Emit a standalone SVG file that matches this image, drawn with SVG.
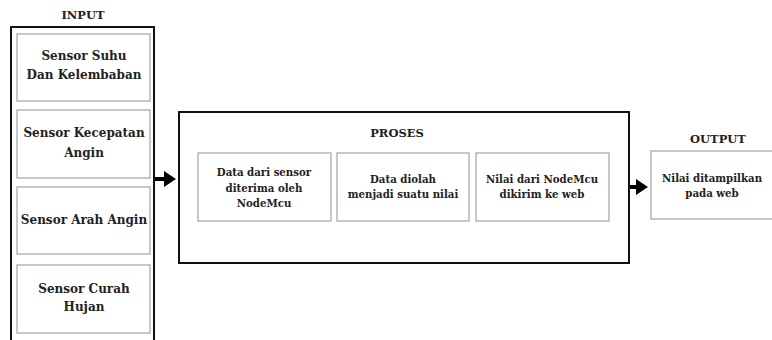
<svg xmlns="http://www.w3.org/2000/svg" width="772" height="340" viewBox="0 0 772 340">
<style>
.outer{fill:none;stroke:#111;stroke-width:2}
.inner{fill:#fff;stroke:#aaa;stroke-width:1.3}
.t{font-family:"DejaVu Serif","Liberation Serif",serif;font-weight:bold;fill:#222;text-anchor:middle}
.s{font-size:12px}
.m{font-size:10.2px}
.h{font-size:11.5px}
.arrow{stroke:#000;stroke-width:4;fill:none}
</style>
<defs>
<marker id="ah" markerWidth="4" markerHeight="4" refX="0.5" refY="2" orient="auto" markerUnits="strokeWidth">
<path d="M0,0 L3,2 L0,4 Z" fill="#000"/>
</marker>
</defs>
<rect width="772" height="340" fill="#fff"/>

<g id="input">
<text class="t h" x="83" y="19">INPUT</text>
<path class="outer" d="M11,342 V27 H154 V342"/>
</g>
<g id="sensor1">
<rect class="inner" x="17" y="34" width="133" height="67"/>
<text class="t s" x="84" y="60">Sensor Suhu</text>
<text class="t s" x="84" y="79">Dan Kelembaban</text>
</g>
<g id="sensor2">
<rect class="inner" x="17" y="110" width="133" height="68"/>
<text class="t s" x="84" y="137">Sensor Kecepatan</text>
<text class="t s" x="84" y="157">Angin</text>
</g>
<g id="sensor3">
<rect class="inner" x="17" y="187" width="133" height="67"/>
<text class="t s" x="84" y="224">Sensor Arah Angin</text>
</g>
<g id="sensor4">
<rect class="inner" x="17" y="265" width="133" height="68"/>
<text class="t s" x="84" y="293">Sensor Curah</text>
<text class="t s" x="84" y="311">Hujan</text>
</g>

<g id="proses">
<rect class="outer" x="179" y="112" width="450" height="151"/>
<text class="t h" x="397" y="137">PROSES</text>
</g>
<g id="proses1">
<rect class="inner" x="198" y="153" width="133" height="68"/>
<text class="t m" x="264" y="176">Data dari sensor</text>
<text class="t m" x="264" y="192">diterima oleh</text>
<text class="t m" x="264" y="207">NodeMcu</text>
</g>
<g id="proses2">
<rect class="inner" x="337" y="153" width="132" height="68"/>
<text class="t m" x="403" y="183">Data diolah</text>
<text class="t m" x="403" y="198">menjadi suatu nilai</text>
</g>
<g id="proses3">
<rect class="inner" x="476" y="153" width="133" height="68"/>
<text class="t m" x="542" y="183">Nilai dari NodeMcu</text>
<text class="t m" x="542" y="198">dikirim ke web</text>
</g>

<g id="output">
<text class="t h" x="718" y="143">OUTPUT</text>
<rect class="inner" x="651" y="151" width="125" height="68"/>
<text class="t m" x="712" y="182">Nilai ditampilkan</text>
<text class="t m" x="712" y="197">pada web</text>
</g>

<g id="connectors">
<line class="arrow" x1="155" y1="179" x2="166" y2="179" marker-end="url(#ah)"/>
<line class="arrow" x1="630" y1="187" x2="638" y2="187" marker-end="url(#ah)"/>
</g>
</svg>
